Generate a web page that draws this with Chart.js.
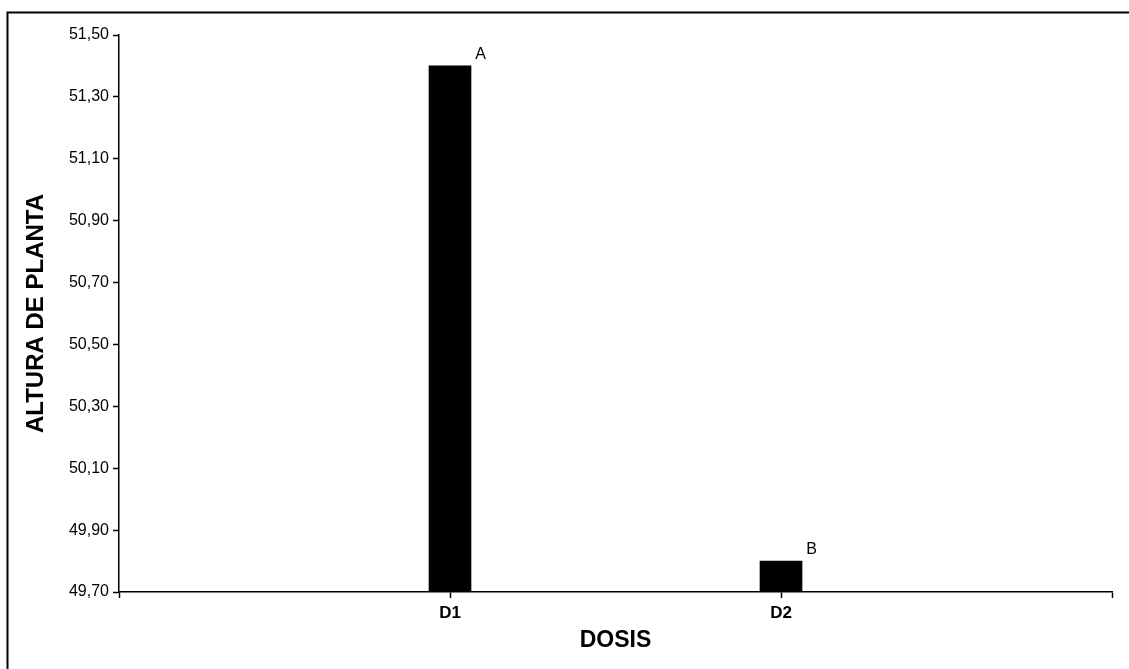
<!DOCTYPE html>
<html>
<head>
<meta charset="utf-8">
<script src="https://cdn.jsdelivr.net/npm/chart.js@4"></script>
<style>
  html, body { margin: 0; padding: 0; background: #fff; }
  #wrap { width: 1129px; height: 669px; position: relative; }
</style>
</head>
<body>
<div id="wrap"><canvas id="c" width="1129" height="669"></canvas></div>
<script>
const categories = ['D1', 'D2'];
const categoryPositions = [1, 2];
const values = [51.40, 49.80];
const letters = ['A', 'B'];
const yMin = 49.70;
const yMax = 51.50;
const yTickValues = [49.70, 49.90, 50.10, 50.30, 50.50, 50.70, 50.90, 51.10, 51.30, 51.50];
const yTickLabels = ['49,70', '49,90', '50,10', '50,30', '50,50', '50,70', '50,90', '51,10', '51,30', '51,50'];
const xTickValues = [0, 1, 2, 3];
const xTickLabels = ['', 'D1', 'D2', ''];
const xTitle = 'DOSIS';
const yTitle = 'ALTURA DE PLANTA';

const FONT = "'Liberation Sans', Arial, sans-serif";

const frame = {
  id: 'frame',
  beforeDraw(chart) {
    const ctx = chart.ctx;
    ctx.save();
    ctx.fillStyle = '#fff';
    ctx.fillRect(0, 0, chart.width, chart.height);
    ctx.strokeStyle = '#000';
    ctx.lineWidth = 2;
    ctx.strokeRect(7.5, 12.5, 1300, 1000);
    ctx.restore();
  }
};

const letterLabels = {
  id: 'letterLabels',
  afterDatasetsDraw(chart) {
    const ctx = chart.ctx;
    const meta = chart.getDatasetMeta(0);
    ctx.save();
    ctx.fillStyle = '#000';
    ctx.font = '16px ' + FONT;
    ctx.textAlign = 'center';
    ctx.textBaseline = 'middle';
    meta.data.forEach((el, i) => {
      ctx.fillText(letters[i], el.x + el.width / 2 + 9.5, el.y - 11);
    });
    ctx.restore();
  }
};

new Chart(document.getElementById('c'), {
  type: 'bar',
  data: {
    datasets: [{
      data: categories.map((c, i) => ({ x: categoryPositions[i], y: [yMin, values[i]] })),
      backgroundColor: '#000',
      borderWidth: 0,
      barThickness: 42
    }]
  },
  options: {
    responsive: false,
    animation: false,
    devicePixelRatio: 1,
    layout: { padding: { top: 35, right: 17, left: 0, bottom: 0 } },
    plugins: { legend: { display: false }, tooltip: { enabled: false } },
    scales: {
      x: {
        type: 'linear',
        min: 0, max: 3,
        offset: false,
        afterBuildTicks(scale) { scale.ticks = xTickValues.map(v => ({ value: v })); },
        afterFit(scale) { scale.height = 77; },
        ticks: {
          autoSkip: false,
          maxRotation: 0,
          padding: 5,
          color: '#000',
          font: { family: FONT, size: 17, weight: 'bold' },
          callback: (v, i) => xTickLabels[i]
        },
        grid: { offset: false, drawOnChartArea: false, drawTicks: true, tickLength: 6, color: '#000', tickWidth: 1.5 },
        border: { display: true, color: '#000', width: 1.5 },
        title: {
          display: true, text: xTitle, color: '#000',
          font: { family: FONT, size: 23, weight: 'bold' },
          padding: { top: 0, bottom: 15 }
        }
      },
      y: {
        type: 'linear',
        min: yMin, max: yMax,
        afterBuildTicks(scale) { scale.ticks = yTickValues.map(v => ({ value: v })); },
        afterFit(scale) { scale.width = 119; },
        ticks: {
          autoSkip: false,
          padding: 4,
          color: '#000',
          font: { family: FONT, size: 16 },
          callback: (v, i) => yTickLabels[i]
        },
        grid: { offset: false, drawOnChartArea: false, drawTicks: true, tickLength: 6, color: '#000', tickWidth: 1.5 },
        border: { display: true, color: '#000', width: 1.5 },
        title: {
          display: true, text: yTitle, color: '#000',
          font: { family: FONT, size: 24, weight: 'bold' },
          padding: { top: 22, bottom: 0 }
        }
      }
    }
  },
  plugins: [frame, letterLabels]
});
</script>
</body>
</html>
